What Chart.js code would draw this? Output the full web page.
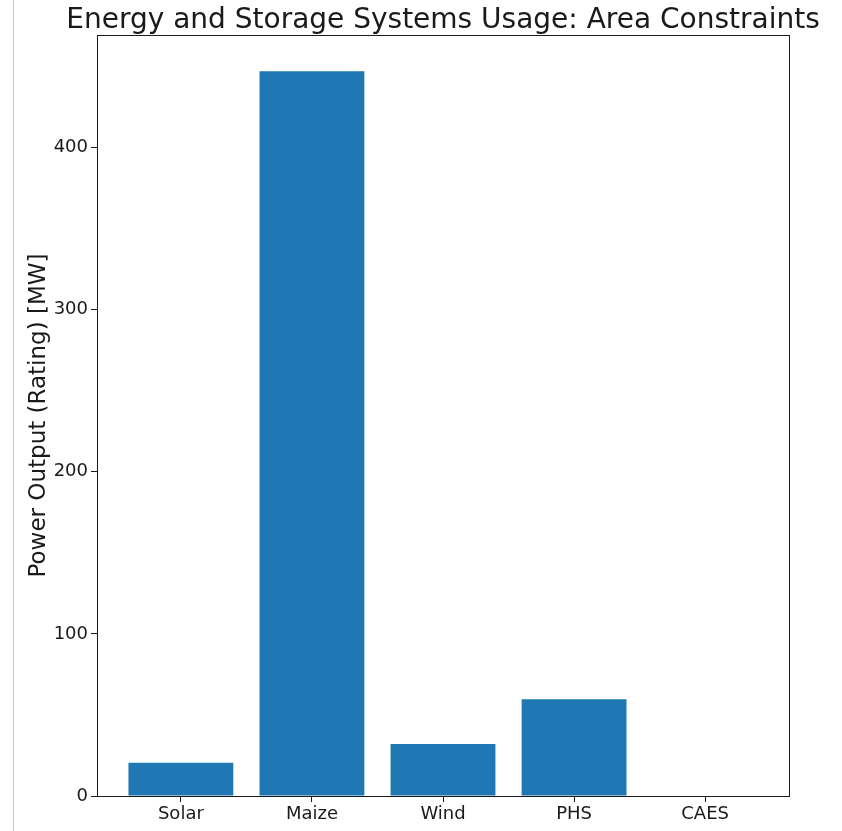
<!DOCTYPE html>
<html>
<head>
<meta charset="utf-8">
<script src="https://cdn.jsdelivr.net/npm/chart.js@4"></script>
<style>
  html, body { margin: 0; padding: 0; background: #fff; }
  #wrap { position: relative; width: 842px; height: 831px; }
  #rule { position: absolute; left: 13px; top: 0; width: 1px; height: 831px; background: #c9c9c9; }
  canvas { position: absolute; left: 0; top: 0; }
</style>
</head>
<body>
<div id="wrap">
  <div id="rule"></div>
  <canvas id="c" width="842" height="831"></canvas>
</div>
<script>
// Technologies compared and their rated power output
const categories = ['Solar', 'Maize', 'Wind', 'PHS', 'CAES'];
const powerMW = [20.5, 447, 32, 59.6, 0];
const yTicks = [0, 100, 200, 300, 400];

const titleText = 'Energy and Storage Systems Usage: Area Constraints';
const FONT = "'DejaVu Sans', sans-serif";
const INK = '#1a1a1a';

// Frame around the plotting area plus the title above it
const framePlugin = {
  id: 'frame',
  afterDraw(chart) {
    const { ctx, chartArea: a } = chart;
    ctx.save();
    ctx.strokeStyle = INK;
    ctx.lineWidth = 1;
    ctx.strokeRect(Math.round(a.left) + 0.5, Math.round(a.top) + 0.5,
                   Math.round(a.right - a.left), Math.round(a.bottom - a.top));
    ctx.fillStyle = INK;
    ctx.font = '28px ' + FONT;
    ctx.textAlign = 'center';
    ctx.textBaseline = 'alphabetic';
    ctx.fillText(titleText, (a.left + a.right) / 2, a.top - 7);
    ctx.restore();
  }
};

const yMax = Math.max(...powerMW) * 1.05;

new Chart(document.getElementById('c'), {
  type: 'bar',
  data: {
    datasets: [{
      data: powerMW.map((v, i) => ({ x: i, y: v })),
      backgroundColor: '#1f77b4',
      borderWidth: 0,
      barPercentage: 0.8,
      categoryPercentage: 1.0
    }]
  },
  options: {
    responsive: false,
    animation: false,
    layout: { padding: { top: 35, right: 53, left: 0, bottom: 0 } },
    plugins: { legend: { display: false }, tooltip: { enabled: false } },
    scales: {
      x: {
        type: 'linear',
        offset: false,
        min: -0.64,
        max: 4.64,
        afterBuildTicks(scale) {
          scale.ticks = categories.map((_, i) => ({ value: i }));
        },
        afterFit(scale) { scale.height = 35; },
        grid: { display: true, offset: false, drawOnChartArea: false, tickLength: 6, color: INK },
        border: { display: false },
        ticks: {
          autoSkip: false,
          maxRotation: 0,
          padding: 2,
          color: INK,
          font: { family: FONT, size: 18 },
          callback: (v) => categories[v]
        }
      },
      y: {
        min: 0,
        max: yMax,
        afterBuildTicks(scale) {
          scale.ticks = yTicks.map(v => ({ value: v }));
        },
        afterFit(scale) { scale.width = 97; },
        grid: { display: true, drawOnChartArea: false, tickLength: 6, color: INK },
        border: { display: false },
        title: {
          display: true,
          text: 'Power Output (Rating) [MW]',
          color: INK,
          font: { family: FONT, size: 23 },
          padding: { top: 25, bottom: 0 }
        },
        ticks: {
          padding: 3,
          color: INK,
          font: { family: FONT, size: 18 }
        }
      }
    }
  },
  plugins: [framePlugin]
});
</script>
</body>
</html>
